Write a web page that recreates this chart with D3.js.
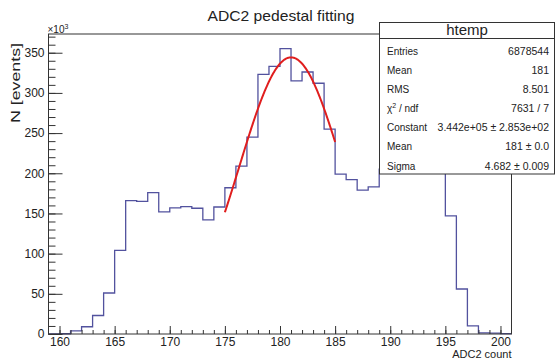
<!DOCTYPE html>
<html>
<head>
<meta charset="utf-8">
<script src="https://cdn.jsdelivr.net/npm/d3@7"></script>
<style>
  html, body { margin: 0; padding: 0; background: #fff; }
  svg { display: block; font-family: "Liberation Sans", Arial, Helvetica, sans-serif; }
</style>
</head>
<body>
<svg id="chart" width="555" height="363"></svg>
<script>
// Histogram bins: lower edge of each 1-count-wide bin, content in units of 10^3 events
const binEdges = [159,160,161,162,163,164,165,166,167,168,169,170,171,172,173,174,175,176,177,178,179,
                  180,181,182,183,184,185,186,187,188,189,190,191,192,193,194,195,196,197,198,199,200];
const binCounts = [0,0.3,4,9,23,51,104,166,165,176,152,157,158.5,156.5,142,158,182,209,245,323,333,
                   355,315,326,312,255,199,192,179,183,205,220,240,255,258,254,147,56,10,1.5,1,0.5];
const binWidth = 1;

// Gaussian fit result (Constant in 10^3 events)
const fitConstant = 344.2;
const fitMean = 181;
const fitSigma = 4.682;
const fitRange = [175, 185];

// Axis ticks
const xMajorTicks = [160,165,170,175,180,185,190,195,200];
const yMajorTicks = [0,50,100,150,200,250,300,350];

// Statistics box
const statsTitle = "htemp";
const statLabels = ["Entries", "Mean", "RMS", "χ2 / ndf", "Constant", "Mean", "Sigma"];
const statValues = ["6878544", "181", "8.501", "7631 / 7", "3.442e+05 ± 2.853e+02", "181 ± 0.0", "4.682 ± 0.009"];

const svg = d3.select("#chart");
const frame = { left: 48.5, right: 511.5, top: 34, bottom: 334 };

const x = d3.scaleLinear().domain([159, 201]).range([frame.left, frame.right]);
const y = d3.scaleLinear().domain([0, 373.3]).range([frame.bottom, frame.top]);

const textColor = "#222";
const axisColor = "#333";

// Histogram outline as steps
const stepPts = binEdges.map((e, i) => [e, binCounts[i]]);
stepPts.push([binEdges[binEdges.length - 1] + binWidth, binCounts[binCounts.length - 1]]);
const histLine = d3.line().x(d => x(d[0])).y(d => y(d[1])).curve(d3.curveStepAfter);
svg.append("path")
  .attr("d", histLine(stepPts))
  .attr("fill", "none")
  .attr("stroke", "#52529e")
  .attr("stroke-width", 1.3);

// Gaussian fit curve
const fitPts = d3.range(fitRange[0], fitRange[1] + 1e-9, 0.05).map(v =>
  [v, fitConstant * Math.exp(-0.5 * Math.pow((v - fitMean) / fitSigma, 2))]);
svg.append("path")
  .attr("d", d3.line().x(d => x(d[0])).y(d => y(d[1]))(fitPts))
  .attr("fill", "none")
  .attr("stroke", "#e01e1e")
  .attr("stroke-width", 2);

// Frame
svg.append("rect")
  .attr("x", frame.left).attr("y", frame.top)
  .attr("width", frame.right - frame.left).attr("height", frame.bottom - frame.top)
  .attr("fill", "none").attr("stroke", axisColor).attr("stroke-width", 1);

// X axis: major and minor ticks pointing into the frame
const xAxis = svg.append("g").attr("transform", `translate(0,${frame.bottom})`);
xAxis.call(d3.axisBottom(x).tickValues(d3.range(160, 201, 1)).tickSize(-4).tickFormat(""))
  .call(g => g.select(".domain").remove());
xAxis.append("g").call(d3.axisBottom(x).tickValues(xMajorTicks).tickSize(-8).tickPadding(3).tickFormat(d3.format("d")))
  .call(g => g.select(".domain").remove());
xAxis.selectAll("line").attr("stroke", axisColor);
xAxis.selectAll("text").attr("font-size", 12).attr("fill", textColor)
  .attr("font-family", "Liberation Sans, Arial, sans-serif");

// Y axis
const yAxis = svg.append("g").attr("transform", `translate(${frame.left},0)`);
yAxis.call(d3.axisLeft(y).tickValues(d3.range(0, 371, 10)).tickSize(-7).tickFormat(""))
  .call(g => g.select(".domain").remove());
yAxis.append("g").call(d3.axisLeft(y).tickValues(yMajorTicks).tickSize(-14).tickPadding(4).tickFormat(d3.format("d")))
  .call(g => g.select(".domain").remove());
yAxis.selectAll("line").attr("stroke", axisColor);
yAxis.selectAll("text").attr("font-size", 12).attr("fill", textColor)
  .attr("font-family", "Liberation Sans, Arial, sans-serif");

// Axis exponent marker
const expo = svg.append("text").attr("x", frame.left - 1).attr("y", 33)
  .attr("font-size", 10).attr("fill", textColor);
expo.append("tspan").text("×10");
expo.append("tspan").attr("dy", -4).attr("font-size", 7).text("3");

// Title
svg.append("text").attr("x", 281).attr("y", 21)
  .attr("text-anchor", "middle").attr("font-size", 15).attr("fill", textColor)
  .attr("textLength", 147).attr("lengthAdjust", "spacingAndGlyphs")
  .text("ADC2 pedestal fitting");

// Axis titles
svg.append("text")
  .attr("transform", "translate(20,43) rotate(-90)")
  .attr("text-anchor", "end").attr("font-size", 13).attr("fill", textColor)
  .attr("textLength", 80).attr("lengthAdjust", "spacingAndGlyphs")
  .text("N [events]");
svg.append("text").attr("x", frame.right).attr("y", 358)
  .attr("text-anchor", "end").attr("font-size", 11).attr("fill", textColor)
  .text("ADC2 count");

// Statistics box
const box = { left: 379.5, top: 22.5, right: 554.5, bottom: 174 };
svg.append("rect")
  .attr("x", box.left).attr("y", box.top)
  .attr("width", box.right - box.left).attr("height", box.bottom - box.top)
  .attr("fill", "#fff").attr("stroke", axisColor).attr("stroke-width", 1);
svg.append("line")
  .attr("x1", box.left).attr("x2", box.right).attr("y1", 38.5).attr("y2", 38.5)
  .attr("stroke", axisColor).attr("stroke-width", 1);
svg.append("text").attr("x", (box.left + box.right) / 2).attr("y", 35)
  .attr("text-anchor", "middle").attr("font-size", 15).attr("fill", textColor)
  .text(statsTitle);

const rowY = d3.scaleLinear().domain([0, statLabels.length - 1]).range([55, 169.5]);
statLabels.forEach((lab, i) => {
  const t = svg.append("text").attr("x", 387).attr("y", rowY(i))
    .attr("font-size", 10).attr("fill", textColor);
  if (lab.startsWith("χ2")) {
    t.append("tspan").text("χ");
    t.append("tspan").attr("dy", -4).attr("font-size", 7).text("2");
    t.append("tspan").attr("dy", 4).text(" / ndf");
  } else {
    t.text(lab);
  }
  svg.append("text").attr("x", 549).attr("y", rowY(i))
    .attr("text-anchor", "end").attr("font-size", 10.5).attr("fill", textColor)
    .text(statValues[i]);
});
</script>
</body>
</html>
